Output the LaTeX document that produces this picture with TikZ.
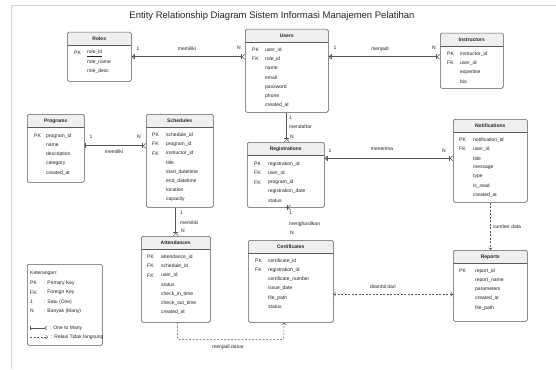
\documentclass[tikz,border=0pt]{standalone}
\usepackage{fontspec}
\setmainfont{Liberation Sans}
\usetikzlibrary{arrows.meta,shadows}
\definecolor{boxline}{HTML}{5A5A5A}
\definecolor{headbg}{HTML}{EFEFEF}
\definecolor{relline}{HTML}{555555}
\definecolor{txt}{HTML}{222222}
\tikzset{
  entity/.style={draw=boxline, line width=0.5pt, rounded corners=1.5pt, fill=white,
    anchor=north west, inner sep=0pt,
    drop shadow={opacity=0.2, shadow xshift=0.7pt, shadow yshift=-0.7pt},
    path picture={
      \fill[headbg] (path picture bounding box.north west) rectangle ([yshift=-13pt]path picture bounding box.north east);
      \draw[boxline, line width=0.4pt] ([yshift=-13pt]path picture bounding box.north west) -- ([yshift=-13pt]path picture bounding box.north east);
    }},
  head/.style={font=\fontsize{5}{6}\selectfont\bfseries, text=txt, inner sep=0pt},
  key/.style={anchor=west, font=\fontsize{5}{6}\selectfont, text=txt, inner sep=0pt},
  attr/.style={key},
  lbl/.style={font=\fontsize{5}{6}\selectfont, text=txt, inner sep=0pt},
  rel/.style={draw=relline, line width=0.6pt},
  onemany/.style={rel, {Straight Barb[length=2pt,width=4pt] Bar[width=5pt]}-{Bar[width=5pt] Straight Barb[reversed,length=2.5pt,width=5pt]}},
  tomany/.style={rel, -{Bar[width=5pt] Straight Barb[reversed,length=2.5pt,width=5pt]}},
  indirect/.style={rel, line width=0.5pt, dash pattern=on 2pt off 1.5pt},
}
\begin{document}
\begin{tikzpicture}[x=1pt, y=-1pt, line join=round]
  \useasboundingbox (0,0) rectangle (556,369);
  % frame
  \draw[gray!35, line width=0.8pt] (11,369) -- (11,5) -- (556,5);
  \node[font=\fontsize{9.5}{11}\selectfont, text=txt] (title) at (272,16) {Entity Relationship Diagram Sistem Informasi Manajemen Pelatihan};

  % Roles
  \node[entity, minimum width=64pt, minimum height=49pt] (roles) at (67,32) {};
  \node[head] (roles-h) at ([yshift=-7pt]roles.north) {Roles};
  \foreach \k/\t [count=\i] in {PK/\underline{role\_id}, /role\_name, /role\_desc}{
    \node[key] (roles-k\i) at (74,{53+9.2*(\i-1)}) {\k};
    \node[attr] (roles-a\i) at (87,{53+9.2*(\i-1)}) {\t};
  }

  % Users
  \node[entity, minimum width=83pt, minimum height=83pt] (users) at (245,29) {};
  \node[head] (users-h) at ([yshift=-7pt]users.north) {Users};
  \foreach \k/\t [count=\i] in {PK/user\_id, FK/role\_id, /name, /email, /password, /phone, /created\_at}{
    \node[key] (users-k\i) at (252,{50+9.2*(\i-1)}) {\k};
    \node[attr] (users-a\i) at (265,{50+9.2*(\i-1)}) {\t};
  }

  % Instructors
  \node[entity, minimum width=63pt, minimum height=55pt] (instructors) at (440,33) {};
  \node[head] (instructors-h) at ([yshift=-7pt]instructors.north) {Instructors};
  \foreach \k/\t [count=\i] in {PK/instructor\_id, FK/user\_id, /expertise, /bio}{
    \node[key] (instructors-k\i) at (447,{54+9.2*(\i-1)}) {\k};
    \node[attr] (instructors-a\i) at (460,{54+9.2*(\i-1)}) {\t};
  }

  % Programs
  \node[entity, minimum width=57pt, minimum height=68pt] (programs) at (27,114) {};
  \node[head] (programs-h) at ([yshift=-7pt]programs.north) {Programs};
  \foreach \k/\t [count=\i] in {PK/program\_id, /name, /description, /category, /created\_at}{
    \node[key] (programs-k\i) at (34,{136+9.2*(\i-1)}) {\k};
    \node[attr] (programs-a\i) at (46,{136+9.2*(\i-1)}) {\t};
  }

  % Schedules
  \node[entity, minimum width=67pt, minimum height=93pt] (schedules) at (146,114) {};
  \node[head] (schedules-h) at ([yshift=-7pt]schedules.north) {Schedules};
  \foreach \k/\t [count=\i] in {PK/schedule\_id, FK/program\_id, FK/instructor\_id, /title, /start\_datetime, /end\_datetime, /location, /capacity}{
    \node[key] (schedules-k\i) at (152,{135+9.2*(\i-1)}) {\k};
    \node[attr] (schedules-a\i) at (166,{135+9.2*(\i-1)}) {\t};
  }

  % Registrations
  \node[entity, minimum width=77pt, minimum height=65pt] (registrations) at (247,142) {};
  \node[head] (registrations-h) at ([yshift=-7pt]registrations.north) {Registrations};
  \foreach \k/\t [count=\i] in {PK/registration\_id, FK/user\_id, FK/program\_id, /registration\_date, /status}{
    \node[key] (registrations-k\i) at (254,{164+9.2*(\i-1)}) {\k};
    \node[attr] (registrations-a\i) at (268,{164+9.2*(\i-1)}) {\t};
  }

  % Notifications
  \node[entity, minimum width=74pt, minimum height=83pt] (notifications) at (453,119) {};
  \node[head] (notifications-h) at ([yshift=-7pt]notifications.north) {Notifications};
  \foreach \k/\t [count=\i] in {PK/notification\_id, FK/user\_id, /title, /message, /type, /is\_read, /created\_at}{
    \node[key] (notifications-k\i) at (459,{140+9.2*(\i-1)}) {\k};
    \node[attr] (notifications-a\i) at (473,{140+9.2*(\i-1)}) {\t};
  }

  % Attendances
  \node[entity, minimum width=69pt, minimum height=86pt] (attendances) at (141,236) {};
  \node[head] (attendances-h) at ([yshift=-7pt]attendances.north) {Attendances};
  \foreach \k/\t [count=\i] in {PK/attendance\_id, FK/schedule\_id, FK/user\_id, /status, /check\_in\_time, /check\_out\_time, /created\_at}{
    \node[key] (attendances-k\i) at (147,{257+9.2*(\i-1)}) {\k};
    \node[attr] (attendances-a\i) at (161,{257+9.2*(\i-1)}) {\t};
  }

  % Certificates
  \node[entity, minimum width=85pt, minimum height=82pt] (certificates) at (248,240) {};
  \node[head] (certificates-h) at ([yshift=-7pt]certificates.north) {Certificates};
  \foreach \k/\t [count=\i] in {PK/certificate\_id, FK/registration\_id, /certificate\_number, /issue\_date, /file\_path, /status}{
    \node[key] (certificates-k\i) at (255,{261+9.2*(\i-1)}) {\k};
    \node[attr] (certificates-a\i) at (268,{261+9.2*(\i-1)}) {\t};
  }

  % Reports
  \node[entity, minimum width=74pt, minimum height=71pt] (reports) at (453,250) {};
  \node[head] (reports-h) at ([yshift=-7pt]reports.north) {Reports};
  \foreach \k/\t [count=\i] in {PK/report\_id, /report\_name, /parameters, /created\_at, /file\_path}{
    \node[key] (reports-k\i) at (459,{271+9.2*(\i-1)}) {\k};
    \node[attr] (reports-a\i) at (475,{271+9.2*(\i-1)}) {\t};
  }

  % relasi 1:N
  \draw[onemany] (roles.east) -- (roles.east -| users.west);
  \node[lbl] (ru-1) at (138,49) {1};
  \node[lbl] (ru-t) at (187,49) {memiliki};
  \node[lbl] (ru-n) at (239,48) {N};

  \draw[onemany] (users.east |- roles.east) -- (instructors.west |- roles.east);
  \node[lbl] (ui-1) at (335,48) {1};
  \node[lbl] (ui-t) at (380,49) {menjadi};
  \node[lbl] (ui-n) at (434,48) {N};

  \draw[rel, {Bar[width=5pt]}-{Bar[width=5pt] Straight Barb[reversed,length=2.5pt,width=5pt]}] ([yshift=2.5pt]programs.east) -- ([yshift=2.5pt]programs.east -| schedules.west);
  \node[lbl] (ps-1) at (91,137) {1};
  \node[lbl] (ps-t) at (114,152) {memiliki};
  \node[lbl] (ps-n) at (139,137) {N};

  \draw[tomany] (users.south) -- (users.south |- registrations.north);
  \node[lbl, anchor=west] (ur-1) at (289,118) {1};
  \node[lbl, anchor=west] (ur-t) at (289,127) {mendaftar};
  \node[lbl, anchor=west] (ur-n) at (290,137) {N};

  \draw[onemany] ([yshift=16.5pt]registrations.east) -- ([yshift=16.5pt]registrations.east -| notifications.west);
  \node[lbl] (rn-1) at (330,151) {1};
  \node[lbl] (rn-t) at (382,149) {menerima};
  \node[lbl] (rn-n) at (444,151) {N};

  \draw[tomany] (schedules.south -| attendances.north) -- (attendances.north);
  \node[lbl, anchor=west] (sa-1) at (180,213) {1};
  \node[lbl, anchor=west] (sa-t) at (180,223) {memiliki};
  \node[lbl, anchor=west] (sa-n) at (181,231) {N};

  \draw[tomany] (registrations.south) -- (registrations.south -| certificates.north);
  \node[lbl, anchor=west] (rc-1) at (289,213) {1};
  \node[lbl, anchor=west] (rc-t) at (289,224) {menghasilkan};
  \node[lbl, anchor=west] (rc-n) at (290,233) {N};

  % relasi tidak langsung
  \draw[indirect, -{Straight Barb[length=2pt,width=4pt]}] (notifications.south) -- (notifications.south |- reports.north);
  \node[lbl, anchor=west] (nr-t) at (493,227) {sumber data};

  \draw[indirect, {Straight Barb[length=2pt,width=4pt]}-{Straight Barb[length=2pt,width=4pt]}] ([yshift=-13pt]certificates.east) -- ([yshift=-13pt]certificates.east -| reports.west);
  \node[lbl] (cr-t) at (383,287) {diambil dari};

  \draw[indirect, rounded corners=2pt, -{Straight Barb[length=2pt,width=4pt]}] ([xshift=1.5pt]attendances.south) -- ++(0,17) -| ([xshift=-7pt]certificates.south);
  \node[lbl] (ac-t) at (228,347) {menjadi dasar};

  % Keterangan
  \node[entity, path picture={}, minimum width=75pt, minimum height=81pt] (legend) at (27,264) {};
  \node[key] (lg-h) at (30,273) {Keterangan:};
  \foreach \k/\t [count=\i] in {PK/Primary Key, FK/Foreign Key, 1/Satu (One), N/Banyak (Many)}{
    \node[key] (lg-k\i) at (30,{283+9.4*(\i-1)}) {\k};
    \node[key] (lg-a\i) at (44,{283+9.4*(\i-1)}) {: \t};
  }
  \coordinate (lg-s1) at (30,328);
  \coordinate (lg-e1) at (47,328);
  \draw[rel, line width=0.5pt, {Bar[width=4pt]}-{Straight Barb[reversed,length=2pt,width=4pt]}] (lg-s1) -- (lg-e1);
  \node[key] (lg-a5) at (50,328) {: One to Many};
  \coordinate (lg-s2) at (30,337);
  \coordinate (lg-e2) at (48,337);
  \draw[indirect, -{Straight Barb[length=2pt,width=4pt]}] (lg-s2) -- (lg-e2);
  \node[key] (lg-a6) at (51,337) {: Relasi Tidak langsung};
\end{tikzpicture}
\end{document}
